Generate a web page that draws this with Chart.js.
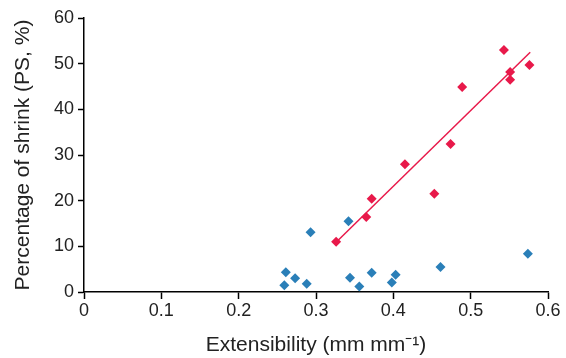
<!DOCTYPE html>
<html>
<head>
<meta charset="utf-8">
<script src="https://cdn.jsdelivr.net/npm/chart.js@4"></script>
<style>
  html, body { margin: 0; padding: 0; background: #fff; }
  #wrap { width: 566px; height: 358px; }
</style>
</head>
<body>
<div id="wrap"><canvas id="chart"></canvas></div>
<script>
// red series (PS vs extensibility)
var redX = [0.326, 0.365, 0.372, 0.415, 0.453, 0.474, 0.489, 0.543, 0.551, 0.551, 0.576];
var redY = [11.0, 16.4, 20.4, 28.0, 21.5, 32.4, 44.9, 53.0, 48.2, 46.5, 49.7];
// blue series
var blueX = [0.259, 0.261, 0.273, 0.288, 0.293, 0.342, 0.344, 0.356, 0.372, 0.398, 0.403, 0.461, 0.574];
var blueY = [1.5, 4.3, 3.0, 1.8, 13.1, 15.5, 3.1, 1.2, 4.2, 2.1, 3.8, 5.5, 8.4];
// fitted line end points
var fitX = [0.326, 0.577];
var fitY = [10.9, 52.5];

var xTicks = [0, 0.1, 0.2, 0.3, 0.4, 0.5, 0.6];
var yTicks = [0, 10, 20, 30, 40, 50, 60];

var red = "#e8194a";
var blue = "#2a7fb8";
var font = "'Liberation Sans', Arial, sans-serif";

function toPoints(xs, ys) {
    var pts = [];
    for (var i = 0; i < xs.length; i++) {
        pts.push({x: xs[i], y: ys[i]});
    }
    return pts;
}

var chart = new Chart(document.getElementById("chart"), {
    type: 'scatter',
    data: {
        datasets: [{
            data: toPoints(fitX, fitY),
            showLine: true,
            borderColor: red,
            borderWidth: 1.5,
            pointRadius: 0,
            order: 2
        }, {
            data: toPoints(blueX, blueY),
            pointStyle: 'rectRot',
            pointRadius: 5,
            backgroundColor: blue,
            borderColor: blue,
            borderWidth: 0,
            order: 1
        }, {
            data: toPoints(redX, redY),
            pointStyle: 'rectRot',
            pointRadius: 5,
            backgroundColor: red,
            borderColor: red,
            borderWidth: 0,
            order: 0
        }]
    },
    options: {
        responsive: true,
        maintainAspectRatio: false,
        animation: false,
        events: [],
        layout: { padding: { top: 18, right: 18, left: 0, bottom: 0 } },
        plugins: { legend: { display: false }, tooltip: { enabled: false } },
        scales: {
            x: {
                type: 'linear',
                min: 0,
                max: 0.6,
                afterBuildTicks: function(s) { s.ticks = xTicks.map(function(v) { return {value: v}; }); },
                afterFit: function(s) { s.height = 66; },
                grid: { drawOnChartArea: false, drawTicks: true, tickLength: 7, color: '#000', tickWidth: 1.5 },
                border: { color: '#000', width: 1.5 },
                ticks: {
                    color: '#222',
                    font: { family: font, size: 18 },
                    padding: 1,
                    maxRotation: 0,
                    callback: function(v) { return v === 0 ? '0' : v.toFixed(1); }
                },
                title: {
                    display: true,
                    text: 'Extensibility (mm mm\u207B\u00B9)',
                    color: '#222',
                    font: { family: font, size: 21 },
                    padding: { top: 2, bottom: 0 }
                }
            },
            y: {
                type: 'linear',
                min: 0,
                max: 60,
                afterBuildTicks: function(s) { s.ticks = yTicks.map(function(v) { return {value: v}; }); },
                afterFit: function(s) { s.width = 84; },
                grid: { drawOnChartArea: false, drawTicks: true, tickLength: 6, color: '#000', tickWidth: 1.5 },
                border: { color: '#000', width: 1.5 },
                ticks: {
                    color: '#222',
                    font: { family: font, size: 18 },
                    padding: 4
                },
                title: {
                    display: true,
                    text: 'Percentage of shrink (PS, %)',
                    color: '#222',
                    font: { family: font, size: 21 },
                    padding: { top: 11, bottom: 2 }
                }
            }
        }
    }
});
</script>
</body>
</html>
